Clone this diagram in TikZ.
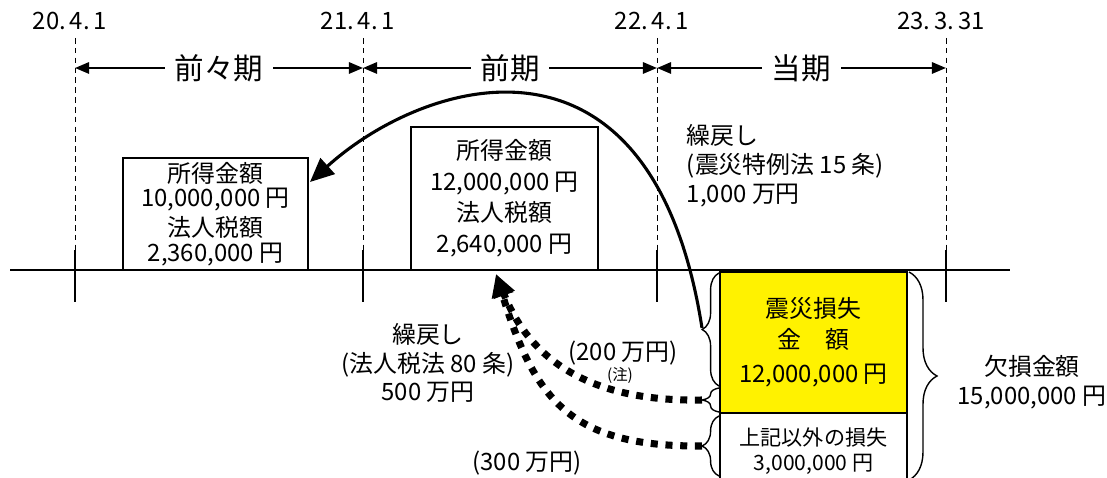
\documentclass[tikz,border=0pt]{standalone}
\usepackage{fontspec}
\setmainfont{Noto Sans CJK JP}
\usetikzlibrary{arrows.meta}
\usetikzlibrary{decorations.pathreplacing}
\tikzset{datelabel/.style={font=\fontsize{17}{20}\selectfont},
 period/.style={fill=white,inner xsep=7pt,font=\fontsize{21}{24}\selectfont},
 span/.style={{Triangle[length=10pt,width=8pt]}-{Triangle[length=10pt,width=8pt]},line width=1.6pt},
 guide/.style={dash pattern=on 4pt off 3pt,line width=0.7pt},
 tick/.style={line width=1pt},
 amount/.style={draw,line width=1.1pt,align=center,inner sep=0pt,
   font=\fontsize{17}{17.5}\selectfont},
 loss/.style={amount,fill=yellow},
 bracel/.style={decorate,decoration={brace,amplitude=0.42cm},line width=1pt},
 bracer/.style={decorate,decoration={brace,amplitude=0.7cm},line width=1pt},
 carry/.style={line width=2.2pt,-{Triangle[length=17pt,width=15pt]}},
 carrydot/.style={line width=5pt,dash pattern=on 5pt off 5.5pt,
   -{Triangle[length=16pt,width=15pt]}},
 note/.style={align=center,font=\fontsize{17}{20.5}\selectfont},
 }

\begin{document}
\begin{tikzpicture}[x=0.025cm,y=-0.025cm]
    \useasboundingbox (0,0) rectangle (1107,478);
    \clip (0,0) rectangle (1107,478);
    \foreach \x/\d [count=\i] in {75/20.\,4.\,1,363/21.\,4.\,1,657/22.\,4.\,1,946/23.\,3.\,31}{
        \draw[guide] (\x,38) -- (\x,250);
        \draw[tick] (\x,250) -- (\x,302);
        \coordinate (g\i) at (\x,68);
        \node[datelabel] (d\i) at (\x-5,21) {\d};
    }
    \draw[tick] (10,270) -- (1010,270);
    \draw[span] (g1) -- (g2) node[period,midway] (pa) {前々期};
    \draw[span] (g2) -- (g3) node[period,midway] (pb) {前期};
    \draw[span] (g3) -- (g4) node[period,midway] (pc) {当期};

    \node[amount,minimum width=4.625cm,minimum height=2.8cm] (box1) at (215.5,214)
        {所得金額\\10,000,000 円\\[2.5pt]法人税額\\2,360,000 円};
    \node[amount,minimum width=4.675cm,minimum height=3.575cm,
        font=\fontsize{17}{22}\selectfont] (box2) at (504.5,198.5)
        {所得金額\\12,000,000 円\\法人税額\\2,640,000 円};
    \node[loss,minimum width=4.675cm,minimum height=3.525cm,
        font=\fontsize{17}{21.5}\selectfont] (quake) at (813.5,342.5)
        {震災損失\\金　額\\[3pt]12,000,000 円};
    \node[amount,minimum width=4.675cm,minimum height=1.925cm,
        font=\fontsize{15}{17.7}\selectfont] (other) at (813.5,451.5)
        {上記以外の損失\\3,000,000 円};

    \draw[bracel] (719,386) -- (719,273);
    \draw[bracel] (719,412) -- (719,388);
    \draw[bracel] (719,476) -- (719,416);
    \draw[bracer] (909,272) -- (909,480);
    \coordinate (tipA) at (702,328);
    \coordinate (tipB) at (702,400);
    \coordinate (tipC) at (702,446);
    \coordinate (hitA) at (310,182);
    \coordinate (hitB) at (496,274);

    \draw[carry] (tipA) .. controls (652,8) and (425,78) .. (hitA);
    \draw[carrydot] (tipB) .. controls (590,402) and (530,360) .. (hitB);
    \draw[carrydot] (tipC) .. controls (570,447) and (535,400) .. (hitB);

    \node[note,align=left,anchor=west] (law15) at (682,166)
        {繰戻し\\(震災特例法 15 条)\\1,000 万円};
    \node[note] (law80) at (428,363) {繰戻し\\(法人税法 80 条)\\500 万円};
    \node[note] (part2) at (623,353) {(200 万円)};
    \node[font=\fontsize{11}{12}\selectfont] (ann) at (620,376) {(注)};
    \node[note] (part3) at (527,463) {(300 万円)};
    \node[note,font=\fontsize{17}{21}\selectfont] (deficit) at (1032,382)
        {欠損金額\\15,000,000 円};
\end{tikzpicture}
\end{document}
